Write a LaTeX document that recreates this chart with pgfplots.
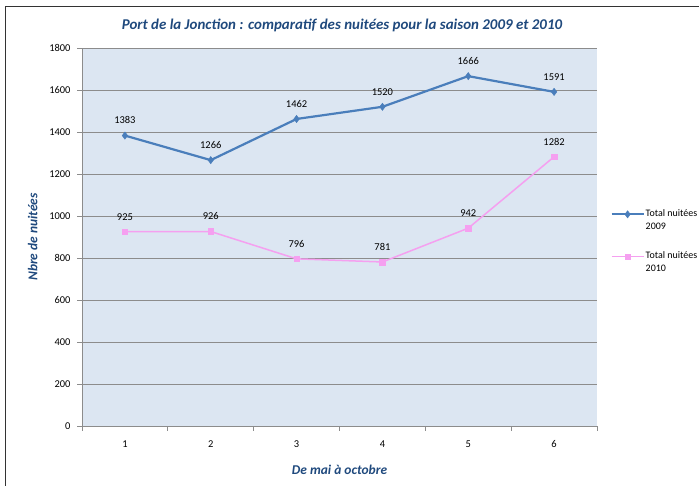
\documentclass[border=0pt]{standalone}
\usepackage{pgfplots}
\pgfplotsset{compat=1.18}
\usepackage{fontspec}
\setmainfont{Carlito}
\definecolor{titleblue}{HTML}{1F497D}
\definecolor{line09}{HTML}{4A7EBB}
\definecolor{line10}{HTML}{F5A0F0}
\definecolor{plotbg}{HTML}{DCE6F2}
\definecolor{gridc}{HTML}{8C8C8C}
\begin{document}
\begin{tikzpicture}[x=1bp,y=1bp]
\path[use as bounding box] (0,0) rectangle (699,486);
\draw[black!80, line width=1.2bp] (5.5,0) -- (5.5,479.5) -- (699,479.5);
\begin{axis}[
  at={(82bp,60bp)}, anchor=south west,
  scale only axis, width=515bp, height=378bp,
  xmin=0.5, xmax=6.5, ymin=0, ymax=1800,
  ytick={0,200,...,1800},
  xtick={0.5,1.5,...,6.5}, xticklabels={},
  extra x ticks={1,2,3,4,5,6},
  extra x tick labels={1,2,3,4,5,6},
  extra x tick style={major tick length=0pt, grid=none, xticklabel style={yshift=-11bp}},
  axis x line*=bottom, axis y line*=left,
  axis line style={gridc, line width=0.8bp},
  tick style={gridc, line width=0.8bp},
  tick align=outside, major tick length=5bp,
  ymajorgrids, grid style={gridc, line width=0.8bp},
  axis background/.style={fill=plotbg},
  /pgf/number format/assume math mode=true,
  /pgf/number format/1000 sep={},
  ticklabel style={font=\fontsize{10.5}{12}\selectfont},
  yticklabel style={xshift=-3bp},
  xlabel={De mai à octobre},
  ylabel={Nbre de nuitées},
  label style={font=\fontsize{13.5}{15}\selectfont\bfseries\itshape, text=titleblue},
  xlabel style={yshift=-6bp},
  ylabel style={yshift=5bp},
  nodes near coords,
  nodes near coords style={font=\fontsize{10.5}{12}\selectfont, black, yshift=8bp},
  legend image code/.code={\draw[mark repeat=2,mark phase=2,#1] plot coordinates {(0bp,6bp) (16bp,6bp) (32bp,6bp)};},
  legend style={at={(1.02,0.488)}, anchor=west, draw=none, fill=none,
     font=\fontsize{10}{13}\selectfont, row sep=19bp,
     nodes={align=left, inner sep=1bp}},
  legend cell align=left,
  clip=false,
]
\addplot[line09, line width=2.2bp, mark=diamond*, mark size=3.6bp, mark options={fill=line09, draw=line09, line width=0.5bp}]
  coordinates {(1,1383) (2,1266) (3,1462) (4,1520) (5,1666) (6,1591)};
\addlegendentry{Total nuitées\\2009}
\addplot[line10, line width=1.5bp, mark=square*, mark size=2.8bp, mark options={fill=line10, draw=line10, line width=0.5bp}]
  coordinates {(1,925) (2,926) (3,796) (4,781) (5,942) (6,1282)};
\addlegendentry{Total nuitées\\2010}
\end{axis}
\node[font=\fontsize{15}{17}\selectfont\bfseries\itshape, text=titleblue] at (342,461) {Port de la Jonction : comparatif des nuitées pour la saison 2009 et 2010};
\end{tikzpicture}
\end{document}
